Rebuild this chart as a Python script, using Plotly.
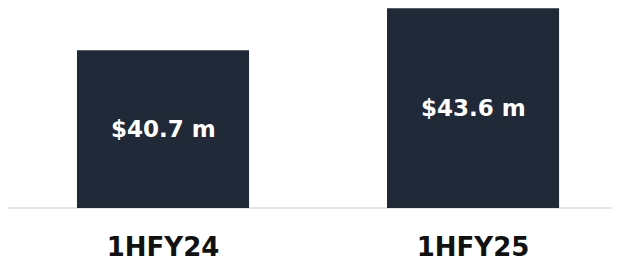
import plotly.graph_objects as go

categories = ["1HFY24", "1HFY25"]
values = [40.7, 43.6]
labels = ["$40.7 m", "$43.6 m"]

Y_MIN, Y_MAX = 29.79, 43.62

fig = go.Figure(go.Bar(
    x=categories, y=values,
    marker=dict(color="#202938", line=dict(width=0)),
    width=0.555,
))
for c, v, t in zip(categories, values, labels):
    fig.add_annotation(x=c, y=(Y_MIN + v) / 2, text=t, showarrow=False,
                       font=dict(family="DejaVu Sans", size=23, color="white", weight=700),
                       xanchor="center", yanchor="middle")
fig.update_layout(
    width=612, height=252,
    margin=dict(l=0, r=0, t=0, b=52),
    paper_bgcolor="white", plot_bgcolor="white",
    showlegend=False,
    xaxis=dict(range=[-0.5, 1.474], showgrid=False, zeroline=False,
               showline=False, ticks="", automargin=False,
               ticklabelstandoff=21,
               tickfont=dict(family="DejaVu Sans", size=26, color="#111111", weight=700)),
    yaxis=dict(range=[Y_MIN, Y_MAX], visible=False, automargin=False),
    shapes=[dict(type="line", xref="paper", yref="paper", x0=0, x1=1, y0=0, y1=0,
                 line=dict(color="#dcdcdc", width=1.5), layer="below")],
)
fig.write_html("out.html")
